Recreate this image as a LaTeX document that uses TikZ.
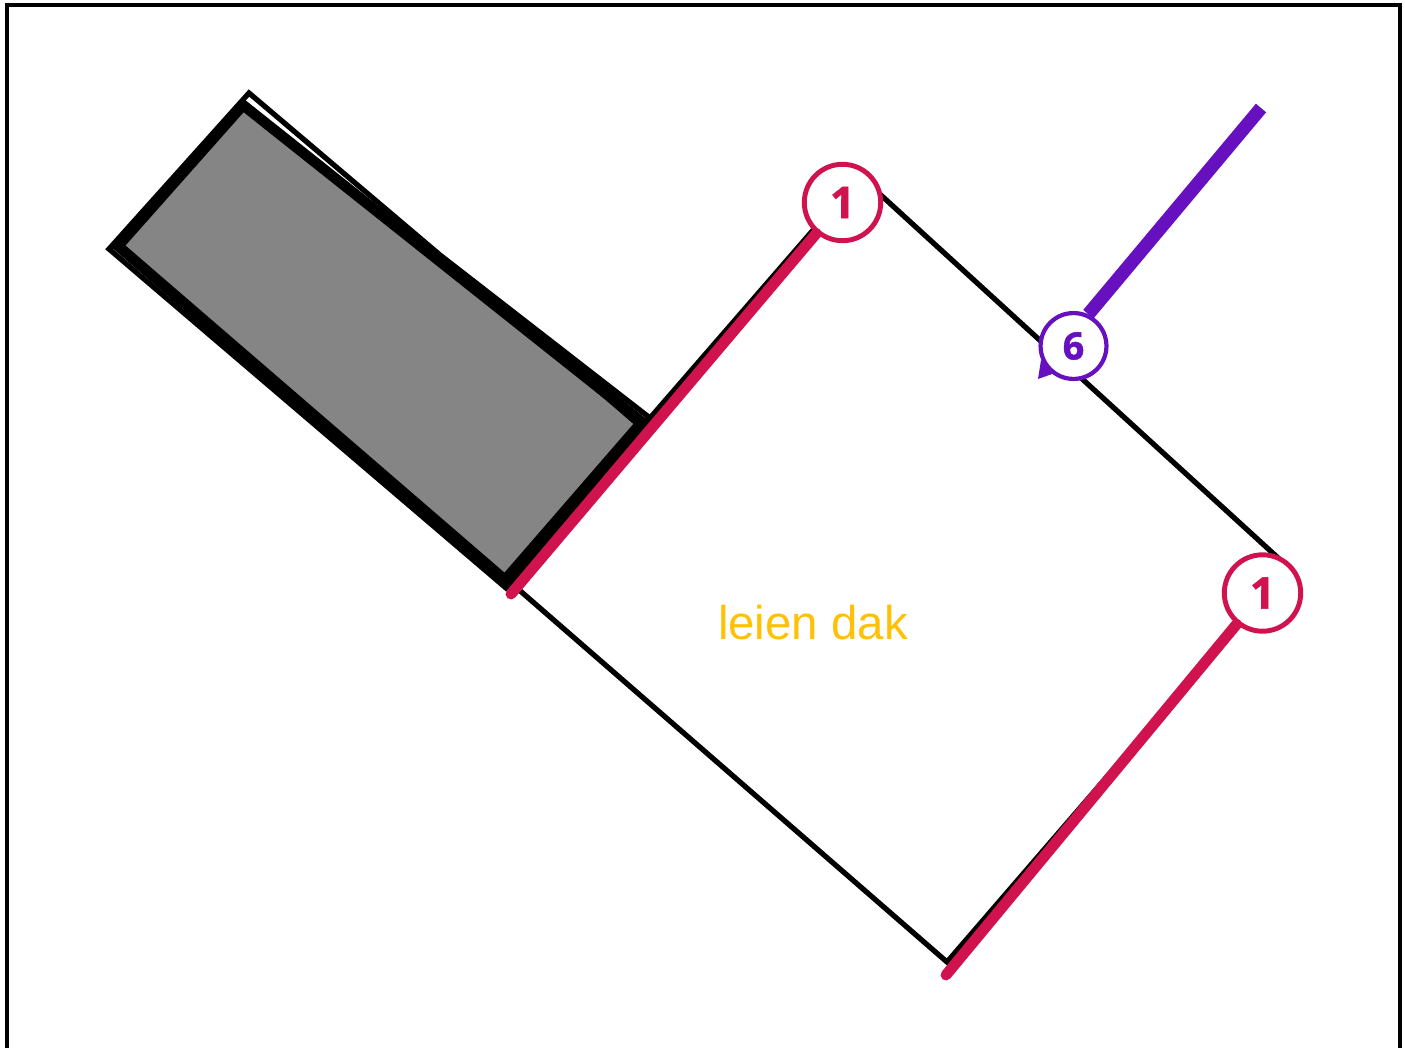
\documentclass[tikz,border=0pt]{standalone}
\usepackage{fontspec}
\setmainfont{Liberation Sans}
\newfontfamily\numfont[BoldFeatures={FakeBold=1.2}]{Open Sans}
\definecolor{numred}{HTML}{D0134F}
\definecolor{numpurple}{HTML}{6610C0}
\definecolor{dakyellow}{HTML}{FFC107}
\definecolor{dakgray}{HTML}{858585}
\tikzset{
  thinline/.style={black,line width=3pt,line join=miter},
  thickline/.style={black,line width=6pt,line join=miter},
  numcircle/.style={circle,draw=#1,fill=white,text=#1,line width=2.8pt,inner sep=0pt,
    font=\numfont\bfseries\fontsize{25}{25}\selectfont},
  numline/.style={#1,line width=6.2pt,line cap=round},
}
\begin{document}
\begin{tikzpicture}[x=0.02cm,y=-0.02cm]
  \useasboundingbox (0,0) rectangle (1405,1048);
  \draw[black,line width=1.8pt] (7,1048) -- (7,5) -- (1400,5) -- (1400,1048);
  % bijgebouw
  \draw[thinline] (249,93) -- (109,249) -- (506,588) -- (650,418) -- (440,255) -- cycle;
  \filldraw[thickline,fill=dakgray] (243,105) -- (118,246) -- (505,580) -- (642,422) -- cycle;
  \draw[black,line width=1.8pt] (510,315) -- (637,425);
  % dak
  \draw[thinline] (510,582) -- (947,962) -- (1288,567) -- (860,176) -- (650,418);
  \node[font=\fontsize{27}{27}\selectfont,text=dakyellow] (dak) at (813,623) {leien dak};
  \coordinate (lijna) at (511,594);
  \coordinate (lijnb) at (946,975);
  \coordinate (lijnc) at (1261,108);
  \node[numcircle=numred,minimum size=43.5pt] (numa) at (842.5,202.5) {1};
  \node[numcircle=numred,minimum size=43.5pt] (numb) at (1262.5,593) {1};
  \fill[numpurple] (1041,360) -- (1038,379) -- (1055,373) -- cycle;
  \node[numcircle=numpurple,minimum size=37.5pt,line width=2.4pt,
    font=\numfont\bfseries\fontsize{21.5}{21.5}\selectfont] (numc) at (1073.5,346) {6};
  \draw[numline=numred] (lijna) -- (numa);
  \draw[numline=numred] (lijnb) -- (numb);
  \draw[numline=numpurple,line cap=butt,line width=7.6pt] (lijnc) -- (numc.65);
\end{tikzpicture}
\end{document}
